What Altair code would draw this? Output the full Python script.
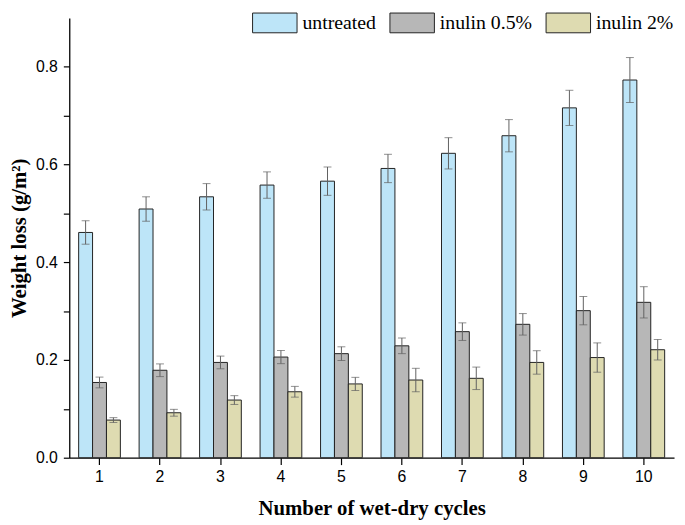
import altair as alt
import pandas as pd

cycles = [1, 2, 3, 4, 5, 6, 7, 8, 9, 10]
groups = ["untreated", "inulin 0.5%", "inulin 2%"]
untreated = [0.461, 0.509, 0.534, 0.558, 0.566, 0.592, 0.623, 0.659, 0.716, 0.773]
untreated_err = [0.024, 0.025, 0.027, 0.027, 0.029, 0.029, 0.032, 0.033, 0.036, 0.046]
inulin05 = [0.154, 0.179, 0.195, 0.206, 0.213, 0.229, 0.258, 0.273, 0.301, 0.318]
inulin05_err = [0.011, 0.013, 0.013, 0.0135, 0.014, 0.016, 0.018, 0.022, 0.029, 0.032]
inulin2 = [0.077, 0.092, 0.118, 0.135, 0.151, 0.159, 0.1625, 0.195, 0.205, 0.221]
inulin2_err = [0.005, 0.007, 0.009, 0.011, 0.0135, 0.024, 0.023, 0.024, 0.030, 0.021]
colors = ["#BDE5F8", "#B7B7B7", "#DEDBB1"]
y_ticks = [0.0, 0.1, 0.2, 0.3, 0.4, 0.5, 0.6, 0.7, 0.8]

rows = []
for g, vals, errs in zip(groups, [untreated, inulin05, inulin2],
                         [untreated_err, inulin05_err, inulin2_err]):
    for c, v, e in zip(cycles, vals, errs):
        rows.append({"cycle": c, "group": g, "value": v, "lo": v - e, "hi": v + e})
df = pd.DataFrame(rows)

xaxis = alt.Axis(title="Number of wet-dry cycles", labelAngle=0, tickSize=7,
                 labelPadding=4, titlePadding=13)
yaxis = alt.Axis(
    title="Weight loss (g/m²)", values=y_ticks, grid=False,
    labelExpr="round(datum.value*10) % 2 == 0 ? format(datum.value, '.1f') : ''",
    tickSize=6, labelPadding=6, titlePadding=6,
)
xenc = alt.X("cycle:O", scale=alt.Scale(paddingInner=0.31, paddingOuter=0.155), axis=xaxis)
xoff = alt.XOffset("group:N", scale=alt.Scale(domain=groups, paddingInner=0, paddingOuter=0))
yscale = alt.Scale(domain=[0, 0.9], nice=False, zero=True)

base = alt.Chart(df)

bars = base.mark_bar(stroke="#222222", strokeWidth=1).encode(
    x=xenc, xOffset=xoff,
    y=alt.Y("value:Q", scale=yscale, axis=yaxis),
    fill=alt.Fill("group:N", scale=alt.Scale(domain=groups, range=colors),
                  legend=alt.Legend(
                      title=None, orient="none", legendX=185, legendY=-18,
                      direction="horizontal", columns=3,
                      symbolType="M-1,-0.444H1V0.444H-1Z", symbolSize=2025,
                      symbolStrokeColor="#222222", symbolStrokeWidth=1,
                      labelFont="Liberation Serif", labelFontSize=20,
                      labelColor="black", labelOffset=5, columnPadding=11,
                      padding=0,
                  )),
)

rules = base.mark_rule(color="#606060", strokeWidth=1).encode(
    x=xenc, xOffset=xoff,
    y=alt.Y("lo:Q", scale=yscale, axis=yaxis), y2="hi:Q",
)
caps_hi = base.mark_tick(color="#606060", size=8, thickness=1).encode(
    x=xenc, xOffset=xoff, y=alt.Y("hi:Q", scale=yscale, axis=yaxis),
)
caps_lo = base.mark_tick(color="#606060", size=8, thickness=1).encode(
    x=xenc, xOffset=xoff, y=alt.Y("lo:Q", scale=yscale, axis=yaxis),
)

chart = alt.layer(bars, rules, caps_hi, caps_lo).properties(
    width=612, height=445,
    autosize=alt.AutoSizeParams(type="none"),
    padding={"left": 62, "top": 7, "right": 3, "bottom": 65},
    background="white",
).configure_view(stroke=None).configure_axis(
    labelFont="Liberation Sans", labelFontSize=16, labelColor="black",
    titleFont="Liberation Serif", titleFontWeight="bold", titleFontSize=21,
    titleColor="black", domainColor="black", tickColor="black",
    domainWidth=1.3, tickWidth=1.2,
)

chart.save("out.html", embed_options={"renderer": "svg", "actions": False})
